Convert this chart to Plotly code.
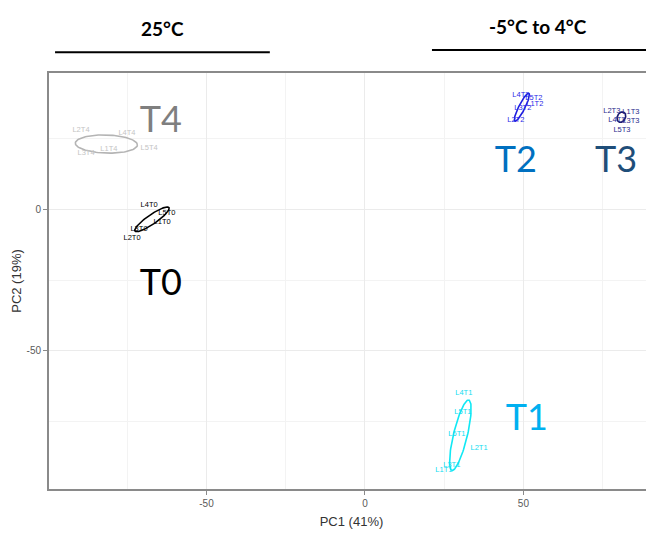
import numpy as np
import plotly.graph_objects as go

# ---- data ----
groups = ["T0", "T1", "T2", "T3", "T4"]

labels_T0 = ["L4T0", "L5T0", "L1T0", "L3T0", "L2T0"]
x_T0 = [-68.1, -62.5, -64.0, -71.3, -73.5]
y_T0 = [1.5, -1.3, -4.5, -7.0, -10.2]

labels_T1 = ["L4T1", "L5T1", "L6T1", "L2T1", "L3T1", "L1T1"]
x_T1 = [31.2, 30.9, 29.0, 36.0, 27.4, 24.9]
y_T1 = [-65.0, -71.7, -79.5, -84.4, -90.4, -92.2]

labels_T2 = ["L4T2", "L5T2", "L1T2", "L3T2", "L2T2"]
x_T2 = [49.2, 53.3, 53.6, 49.8, 47.6]
y_T2 = [40.4, 39.3, 37.2, 35.8, 31.5]

labels_T3 = ["L2T3", "L1T3", "L3T3", "L4T3", "L5T3"]
x_T3 = [77.9, 83.9, 83.9, 79.5, 81.1]
y_T3 = [34.7, 34.4, 31.2, 31.6, 28.0]

labels_T4 = ["L2T4", "L4T4", "L5T4", "L1T4", "L3T4"]
x_T4 = [-89.6, -75.1, -68.1, -80.8, -88.0]
y_T4 = [28.0, 26.9, 21.7, 21.3, 19.9]

# ellipse parameters (centre, semi-axes, angle in degrees)
ell_cx = [-67.2, 30.1, 49.5, 80.9, -81.6]
ell_cy = [-3.5, -79.8, 36.1, 32.6, 23.1]
ell_a = [6.8, 12.7, 5.4, 1.9, 9.8]
ell_b = [1.6, 2.2, 1.0, 1.3, 3.2]
ell_ang = [38, 78, 66, 70, -2]

# big group labels
big_x = [-64.4, 51.1, 47.6, 79.2, -64.4]
big_y = [-26.9, -74.6, 16.5, 16.5, 30.7]

# colours
label_colors = ["#000000", "#10dcf0", "#2a2ae8", "#2a2a8c", "#c4c4c4"]
ellipse_colors = ["#000000", "#10e8f4", "#1d1de0", "#1a1a70", "#b4b4b4"]
big_colors = ["#000000", "#00b0f0", "#0070c0", "#1f4e79", "#7f7f7f"]

# axes
x_ticks = [-50, 0, 50]
x_ticktext = ["-50", "0", "50"]
y_ticks = [-50, 0]
y_ticktext = ["-50", "0"]
x_range = [-99.7, 91.2]
y_range = [-98.8, 48.2]

# headers above the plot
header_text = ["25°C", "-5°C to 4°C"]
header_x = [0.188, 0.808]
header_y = [1.108, 1.111]
rule_x0 = [0.010, 0.633]
rule_x1 = [0.365, 0.987]
rule_y = [1.050, 1.055]

lbls = [labels_T0, labels_T1, labels_T2, labels_T3, labels_T4]
xs = [x_T0, x_T1, x_T2, x_T3, x_T4]
ys = [y_T0, y_T1, y_T2, y_T3, y_T4]

fig = go.Figure()

t = np.linspace(0, 2 * np.pi, 120)
for i, g in enumerate(groups):
    th = np.deg2rad(ell_ang[i])
    ex = ell_cx[i] + ell_a[i] * np.cos(t) * np.cos(th) - ell_b[i] * np.sin(t) * np.sin(th)
    ey = ell_cy[i] + ell_a[i] * np.cos(t) * np.sin(th) + ell_b[i] * np.sin(t) * np.cos(th)
    fig.add_trace(go.Scatter(x=ex, y=ey, mode="lines",
                             line=dict(color=ellipse_colors[i], width=1.6),
                             hoverinfo="skip", showlegend=False))
    fig.add_trace(go.Scatter(x=xs[i], y=ys[i], mode="text", text=lbls[i],
                             textfont=dict(family="Liberation Sans, Arial", size=7.5,
                                           color=label_colors[i]),
                             showlegend=False))

fig.add_trace(go.Scatter(x=big_x, y=big_y, mode="text", text=groups,
                         textfont=dict(family="Lato", size=36, color=big_colors),
                         showlegend=False))

for i, h in enumerate(header_text):
    fig.add_annotation(x=header_x[i], y=header_y[i], xref="paper", yref="paper",
                       xanchor="center", yanchor="middle",
                       text="<b>" + h + "</b>", showarrow=False,
                       font=dict(family="Lato", size=19, color="#000000"))
    fig.add_shape(type="line", xref="paper", yref="paper",
                  x0=rule_x0[i], x1=rule_x1[i], y0=rule_y[i], y1=rule_y[i],
                  line=dict(color="#000000", width=2))

axis_common = dict(
    showline=True, linecolor="#8a8a8a", linewidth=2,
    ticks="outside", ticklen=4, tickwidth=1, tickcolor="#8a8a8a",
    tickfont=dict(family="Liberation Sans, Arial", size=10, color="#5a5a5a"),
    showgrid=True, gridcolor="#ebebeb", gridwidth=1,
    zeroline=False, automargin=False,
    minor=dict(dtick=25, showgrid=True, gridcolor="#f3f3f3", gridwidth=1),
)

fig.update_xaxes(range=x_range, tickvals=x_ticks, ticktext=x_ticktext, mirror=True,
                 title=dict(text="PC1 (41%)", standoff=9,
                            font=dict(family="Liberation Sans, Arial", size=13, color="#333333")),
                 **axis_common)
fig.update_yaxes(range=y_range, tickvals=y_ticks, ticktext=y_ticktext, mirror=False,
                 title=dict(text="PC2 (19%)", standoff=2,
                            font=dict(family="Liberation Sans, Arial", size=13, color="#333333")),
                 **axis_common)

fig.update_layout(width=646, height=526,
                  margin=dict(l=41, r=0, t=65, b=45, autoexpand=False),
                  plot_bgcolor="white", paper_bgcolor="white",
                  showlegend=False)

fig.write_html("out.html")
